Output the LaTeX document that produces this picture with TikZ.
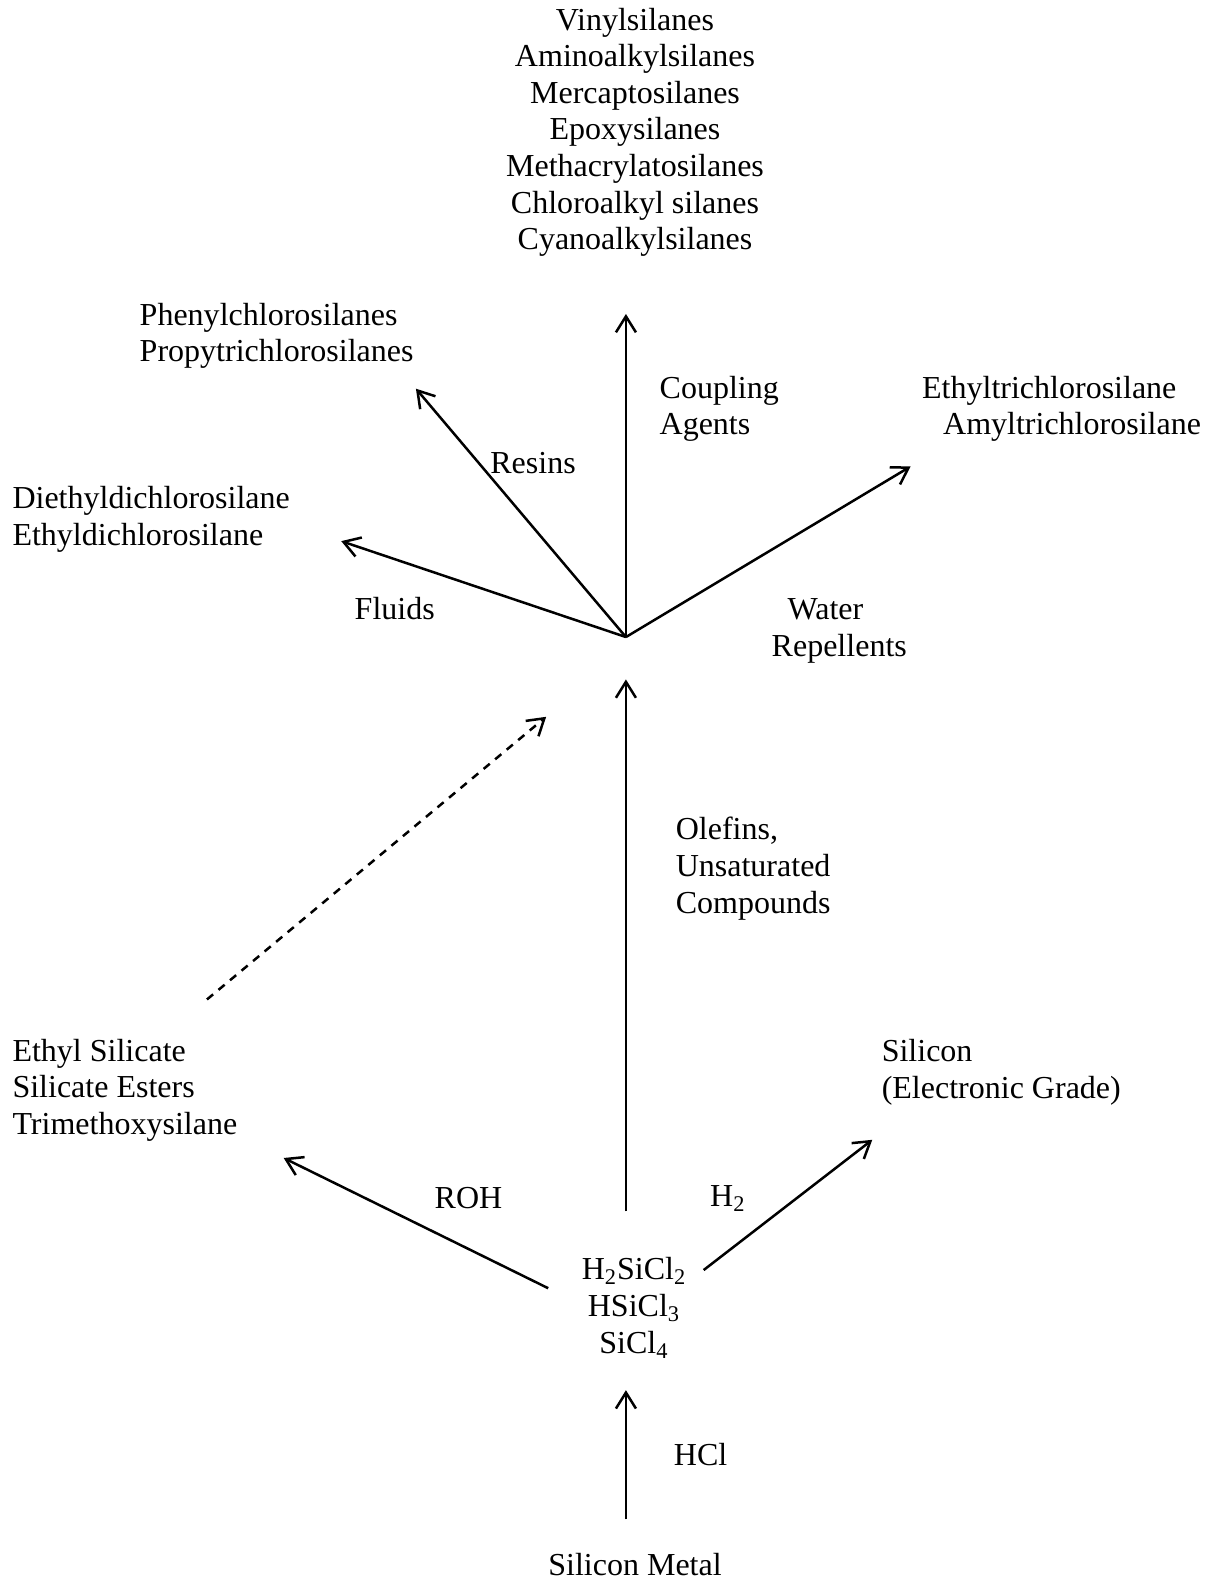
\documentclass[tikz,border=0pt]{standalone}
\usepackage{fontspec}
\setmainfont{Liberation Serif}
\usetikzlibrary{arrows.meta}
\begin{document}
\begin{tikzpicture}[x=0.50460pt,y=-0.50460pt,
  lbl/.style={inner sep=0pt,font=\fontsize{16}{18.3}\selectfont},
  lft/.style={lbl,align=left,anchor=west},
  ctr/.style={lbl,align=center,anchor=center},
  arr/.style={line width=1.25pt,-{Straight Barb[length=8pt,width=10pt,line width=1.25pt]}},
  dsh/.style={arr,dash pattern=on 4pt off 3.5pt}]
\useasboundingbox (0,0) rectangle (1197,1568);
% text nodes
\node[ctr] (coup) at (629,131) {Vinylsilanes\\Aminoalkylsilanes\\Mercaptosilanes\\Epoxysilanes\\Methacrylatosilanes\\Chloroalkyl silanes\\Cyanoalkylsilanes};
\node[lft] (phen) at (138,332.5) {Phenylchlorosilanes\\Propytrichlorosilanes};
\node[lft] (coupl) at (653,405) {Coupling\\Agents};
\node[lft] (ethyl) at (913,405) {Ethyltrichlorosilane\\\hspace*{10.5pt}Amyltrichlorosilane};
\node[ctr] (resins) at (528,459) {Resins};
\node[lft] (dieth) at (12,514.5) {Diethyldichlorosilane\\Ethyldichlorosilane};
\node[ctr] (fluids) at (391,603) {Fluids};
\node[lft] (water) at (764,625) {\hspace*{8pt}Water\\Repellents};
\node[lft] (olef) at (669,860.5) {Olefins,\\Unsaturated\\Compounds};
\node[lft] (esters) at (12,1080) {Ethyl Silicate\\Silicate Esters\\Trimethoxysilane};
\node[lft] (silicon) at (873,1062) {Silicon\\(Electronic Grade)};
\node[ctr] (roh) at (464,1187) {ROH};
\node[ctr] (h2) at (721,1187) {H\textsubscript{2}};
\node[ctr] (chloro) at (628,1295.5) {H\textsubscript{2}SiCl\textsubscript{2}\\HSiCl\textsubscript{3}\\SiCl\textsubscript{4}};
\node[ctr] (hcl) at (694,1441) {HCl};
\node[ctr] (metal) at (629,1550) {Silicon Metal};
% connector end points
\coordinate (hub) at (620,631);
\coordinate (tipC) at (620,311);
\coordinate (tipF) at (338,536);
\coordinate (tipR) at (412,385);
\coordinate (tipW) at (902,462);
\coordinate (midS) at (620,1200);
\coordinate (tipM) at (620,673);
\coordinate (dS) at (205,990);
\coordinate (dT) at (541,710);
\coordinate (rohS) at (543,1276);
\coordinate (rohT) at (281,1147);
\coordinate (h2S) at (697,1258);
\coordinate (h2T) at (864,1129);
\coordinate (hclS) at (620,1505);
\coordinate (hclT) at (620,1377);
% connectors
\draw[arr] (hub) -- (tipC);
\draw[arr] (hub) -- (tipF);
\draw[arr] (hub) -- (tipR);
\draw[arr] (hub) -- (tipW);
\draw[arr] (midS) -- (tipM);
\draw[dsh] (dS) -- (dT);
\draw[arr] (rohS) -- (rohT);
\draw[arr] (h2S) -- (h2T);
\draw[arr] (hclS) -- (hclT);
\end{tikzpicture}
\end{document}
